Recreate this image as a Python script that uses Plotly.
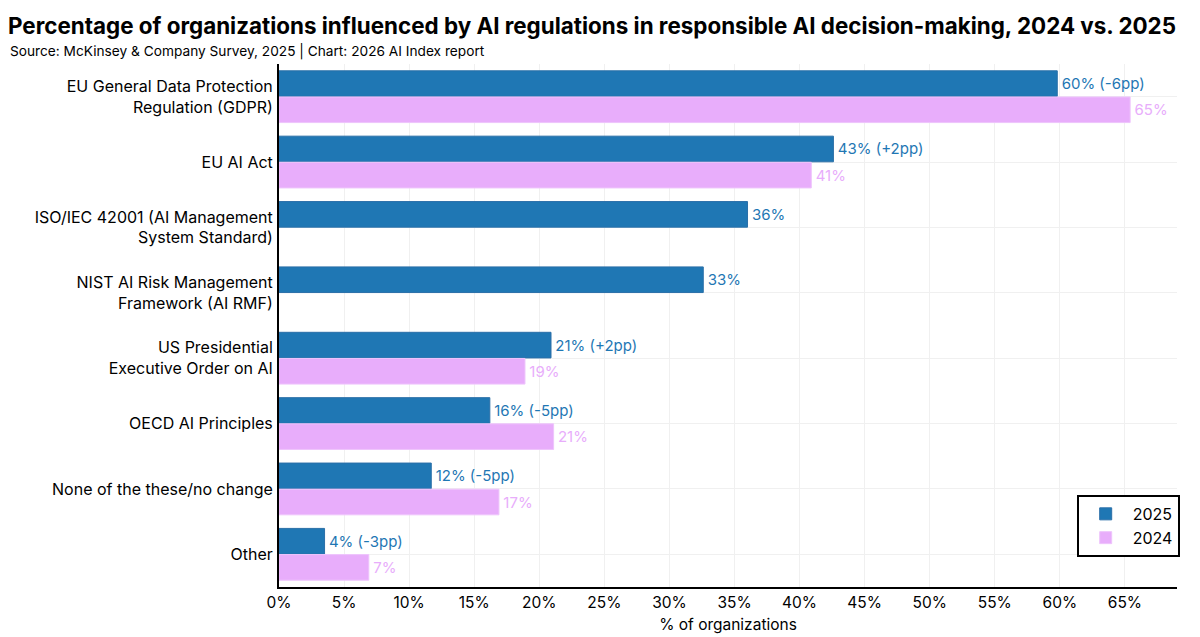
import plotly.graph_objects as go

categories = [
    "EU General Data Protection<br>Regulation (GDPR)",
    "EU AI Act",
    "ISO/IEC 42001 (AI Management<br>System Standard)",
    "NIST AI Risk Management<br>Framework (AI RMF)",
    "US Presidential<br>Executive Order on AI",
    "OECD AI Principles",
    "None of the these/no change",
    "Other",
]
values_2025 = [59.8, 42.6, 36.0, 32.6, 20.9, 16.2, 11.7, 3.5]
labels_2025 = ["60% (-6pp)", "43% (+2pp)", "36%", "33%", "21% (+2pp)",
               "16% (-5pp)", "12% (-5pp)", "4% (-3pp)"]
values_2024 = [65.4, 40.9, None, None, 18.9, 21.1, 16.9, 6.9]
labels_2024 = ["65%", "41%", "", "", "19%", "21%", "17%", "7%"]

blue = "#1f77b4"
pink = "#e8adfb"
font = "Inter"

fig = go.Figure()
fig.add_trace(go.Bar(
    y=categories, x=values_2025, name="2025", orientation="h",
    marker=dict(color=blue, line=dict(color="#2a6fa8", width=1)),
    text=["\u200a" + t for t in labels_2025], textposition="outside",
    cliponaxis=False, textfont=dict(color=blue, size=15, family=font),
))
fig.add_trace(go.Bar(
    y=categories, x=values_2024, name="2024", orientation="h",
    marker=dict(color=pink, line=dict(color="#eec4fc", width=1)),
    text=["\u200a" + t for t in labels_2024], textposition="outside",
    cliponaxis=False, textfont=dict(color=pink, size=15, family=font),
))

# the page body adds an 8px offset, so margins are set 8px smaller
fig.update_layout(
    width=1200, height=637,
    barmode="group", bargap=0.2, bargroupgap=0.02,
    plot_bgcolor="white", paper_bgcolor="white",
    font=dict(family=font, size=16, color="black"),
    margin=dict(l=271, r=31, t=56, b=58),
    title=dict(
        text="<b>Percentage of organizations influenced by AI regulations in responsible AI decision-making, 2024 vs. 2025</b>",
        x=0, xanchor="left", y=1 - 18 / 637, yanchor="middle",
        font=dict(size=22.4, family=font, color="black"),
    ),
    showlegend=True,
    legend=dict(
        x=1.003, xanchor="right", y=0.176, yanchor="top",
        bordercolor="black", borderwidth=2, bgcolor="white",
        font=dict(size=16, family=font), itemwidth=44,
    ),
)
fig.add_annotation(
    text="Source: McKinsey & Company Survey, 2025 | Chart: 2026 AI Index report",
    xref="paper", yref="paper", x=-271 / 898, y=1.0, yanchor="bottom",
    xanchor="left", showarrow=False, yshift=2,
    font=dict(size=13.7, family=font, color="black"),
)
fig.update_xaxes(
    range=[0, 69], dtick=5, ticksuffix="%",
    showgrid=True, gridcolor="#f0f0f0",
    showline=True, linecolor="black", linewidth=2,
    title=dict(text="% of organizations", font=dict(size=15.5), standoff=9),
    tickfont=dict(size=15.5), zeroline=False,
)
fig.update_yaxes(
    autorange="reversed",
    showgrid=True, gridcolor="#f0f0f0",
    showline=True, linecolor="black", linewidth=2,
    ticks="", ticklabelstandoff=1, tickfont=dict(size=16),
)

fig.write_html("out.html")
